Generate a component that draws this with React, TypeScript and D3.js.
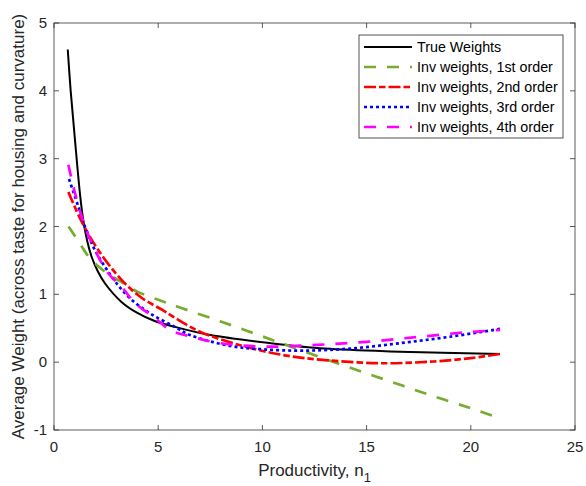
import React from "react";
import * as d3 from "d3";

const xTicks = [0, 5, 10, 15, 20, 25];
const yTicks = [-1, 0, 1, 2, 3, 4, 5];

const trueX = [0.66, 0.8, 1.0, 1.25, 1.41, 1.6, 1.81, 2.1, 2.45, 3.25, 4.0, 4.8, 5.8, 7.5, 10.4, 13.0, 16.6, 21.4];
const trueY = [4.61, 4.0, 3.3, 2.47, 2.08, 1.78, 1.55, 1.34, 1.16, 0.885, 0.726, 0.61, 0.52, 0.4, 0.28, 0.2, 0.155, 0.12];

const inv1X = [0.7, 1.2, 1.65, 2.13, 2.7, 3.25, 4.0, 5.0, 6.0, 8.0, 10.0, 12.0, 14.0, 16.0, 18.0, 20.0, 21.4];
const inv1Y = [2.0, 1.77, 1.56, 1.41, 1.28, 1.18, 1.04, 0.92, 0.81, 0.6, 0.38, 0.16, -0.06, -0.27, -0.48, -0.68, -0.83];

const inv2X = [0.69, 1.33, 2.13, 3.25, 4.2, 5.2, 5.72, 7.0, 8.93, 11.0, 13.0, 15.8, 18.2, 20.0, 21.4];
const inv2Y = [2.51, 2.07, 1.65, 1.21, 0.95, 0.77, 0.67, 0.45, 0.25, 0.105, 0.03, -0.016, 0.01, 0.06, 0.12];

const inv3X = [0.72, 1.17, 1.54, 1.97, 2.77, 3.57, 4.6, 5.8, 6.53, 8.45, 10.0, 12.0, 14.2, 16.6, 19.0, 21.4];
const inv3Y = [2.7, 2.29, 1.95, 1.65, 1.26, 0.965, 0.72, 0.52, 0.4, 0.24, 0.19, 0.17, 0.2, 0.28, 0.375, 0.49];

const inv4X = [0.69, 1.01, 1.49, 1.97, 2.6, 3.25, 3.89, 4.85, 5.6, 6.68, 7.97, 10.2, 12.6, 15.0, 17.4, 19.6, 21.4];
const inv4Y = [2.91, 2.49, 2.0, 1.65, 1.31, 1.11, 0.87, 0.65, 0.47, 0.37, 0.28, 0.23, 0.255, 0.3, 0.37, 0.435, 0.475];

const seriesNames = ["True Weights", "Inv weights, 1st order", "Inv weights, 2nd order", "Inv weights, 3rd order", "Inv weights, 4th order"];

const series = [
  { name: seriesNames[0], xs: trueX, ys: trueY, color: "#000000", width: 2, dash: "" },
  { name: seriesNames[1], xs: inv1X, ys: inv1Y, color: "#77AC30", width: 2.7, dash: "12,11" },
  { name: seriesNames[2], xs: inv2X, ys: inv2Y, color: "#FF0000", width: 2.7, dash: "12,3,6.5,3" },
  { name: seriesNames[3], xs: inv3X, ys: inv3Y, color: "#0000FF", width: 2.7, dash: "3,3" },
  { name: seriesNames[4], xs: inv4X, ys: inv4Y, color: "#FF00FF", width: 2.7, dash: "12,11" },
];

const W = 586;
const H = 486;
const L = 54, R = 575, T = 23, B = 430;
const axisColor = "#262626";
const font = "'Liberation Sans', Arial, sans-serif";

export default function App() {
  const x = d3.scaleLinear().domain([0, 25]).range([L, R]);
  const y = d3.scaleLinear().domain([-1, 5]).range([B, T]);
  const line = d3
    .line<[number, number]>()
    .x((d) => x(d[0]))
    .y((d) => y(d[1]))
    .curve(d3.curveCatmullRom.alpha(0.5));

  const legX = 359, legY = 35, legW = 204, legH = 103;

  return (
    <svg width={W} height={H} style={{ position: "absolute", left: 0, top: 0, background: "#fff" }} fontFamily={font}>
      <rect x={0} y={0} width={W} height={H} fill="#fff" />
      {series.map((s) => (
        <path
          key={s.name}
          d={line(s.xs.map((v, i) => [v, s.ys[i]] as [number, number])) || ""}
          fill="none"
          stroke={s.color}
          strokeWidth={s.width}
          strokeDasharray={s.dash || undefined}
        />
      ))}
      <rect x={L} y={T} width={R - L} height={B - T} fill="none" stroke={axisColor} strokeWidth={1} strokeOpacity={0.75} />
      {xTicks.map((t) => (
        <g key={"x" + t}>
          <line x1={x(t)} x2={x(t)} y1={B} y2={B - 5} stroke={axisColor} strokeOpacity={0.75} />
          <line x1={x(t)} x2={x(t)} y1={T} y2={T + 5} stroke={axisColor} strokeOpacity={0.75} />
          <text x={x(t)} y={B + 22} textAnchor="middle" fontSize={15} fill={axisColor}>
            {t}
          </text>
        </g>
      ))}
      {yTicks.map((t) => (
        <g key={"y" + t}>
          <line x1={L} x2={L + 5} y1={y(t)} y2={y(t)} stroke={axisColor} strokeOpacity={0.75} />
          <line x1={R} x2={R - 5} y1={y(t)} y2={y(t)} stroke={axisColor} strokeOpacity={0.75} />
          <text x={L - 7} y={y(t) + 5} textAnchor="end" fontSize={15} fill={axisColor}>
            {t}
          </text>
        </g>
      ))}
      <text x={(L + R) / 2} y={476} textAnchor="middle" fontSize={17} fill={axisColor}>
        Productivity, n
        <tspan fontSize={13} dy={6}>1</tspan>
      </text>
      <text
        transform={`translate(24, ${(T + B) / 2}) rotate(-90)`}
        textAnchor="middle"
        fontSize={17}
        fill={axisColor}
      >
        Average Weight (across taste for housing and curvature)
      </text>
      <rect x={legX} y={legY} width={legW} height={legH} fill="#fff" stroke={axisColor} strokeWidth={1} strokeOpacity={0.8} />
      {series.map((s, i) => {
        const cy = legY + 12 + i * 20;
        return (
          <g key={"leg" + i}>
            <line
              x1={364}
              x2={412}
              y1={cy}
              y2={cy}
              stroke={s.color}
              strokeWidth={s.width}
              strokeDasharray={s.dash || undefined}
            />
            <text x={417} y={cy + 5} fontSize={14.3} fill="#000">
              {s.name}
            </text>
          </g>
        );
      })}
    </svg>
  );
}
